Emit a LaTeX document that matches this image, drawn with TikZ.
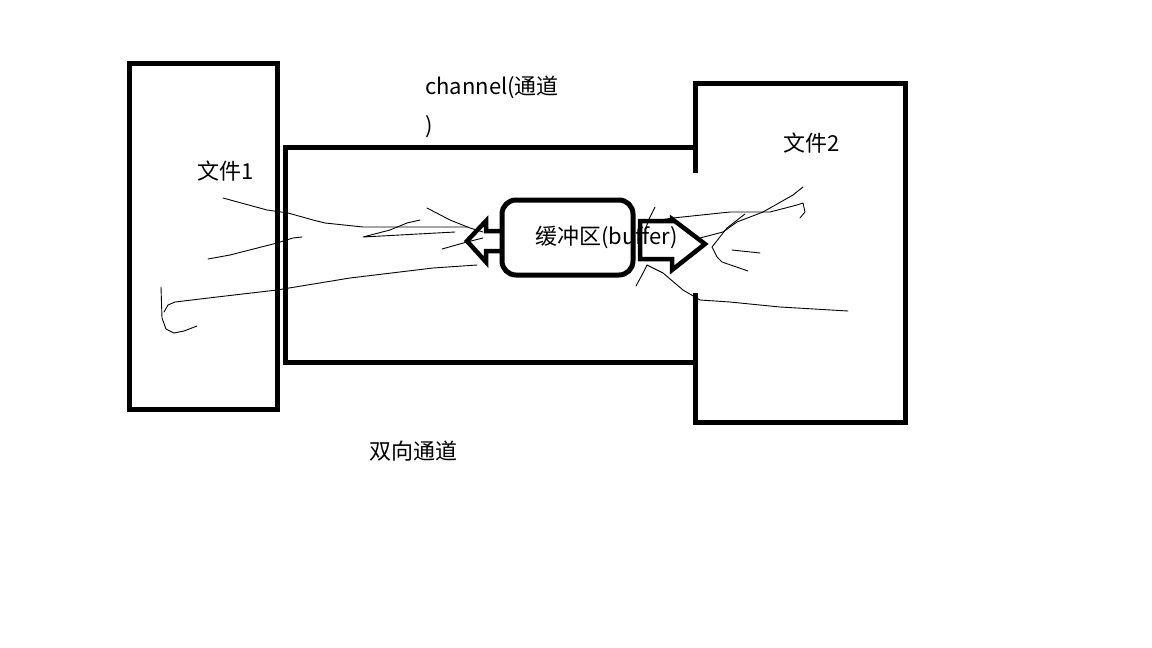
\documentclass[tikz,border=0pt]{standalone}
\usepackage{fontspec}
\setmainfont{Noto Sans CJK SC}
\begin{document}
\begin{tikzpicture}[x=1pt,y=-1pt,
  thickline/.style={line width=5pt},
  scribble/.style={line width=0.9pt, line join=round, line cap=round},
  lbl/.style={inner sep=0pt, anchor=west, font=\fontsize{22}{26}\selectfont}]
\useasboundingbox (0,0) rectangle (1152,648);
\fill[white] (0,0) rectangle (1152,648);
% file 1
\node[draw, thickline, minimum width=148pt, minimum height=346pt, inner sep=0pt] (file1) at (203,236) {};
% file 2 (with opening)
\coordinate (f2a) at (695,173);
\coordinate (f2b) at (695,293);
\draw[thickline, line join=miter] (f2a) -- (695,83) -- (905,83) -- (905,422) -- (695,422) -- (f2b);
% channel
\coordinate (chtop) at (695,147);
\coordinate (chbot) at (695,362);
\draw[thickline, line join=miter] (chtop) -- (285,147) -- (285,362) -- (chbot);
% buffer
\node[draw, thickline, rounded corners=14pt, minimum width=131pt, minimum height=75pt, inner sep=0pt] (buf) at (567.5,237.5) {};
% left arrow
\draw[line width=4.5pt, line join=miter] (502,231) -- (486,231) -- (486,221) -- (467,241) -- (486,262) -- (486,251) -- (502,251);
% right arrow
\draw[line width=4.5pt, line join=miter] (672,221) -- (640,221) -- (640,259) -- (672,259) -- (672,270) -- (705,244) -- (672,219) -- cycle;
% scribbles
\draw[scribble] (223,198) -- (267,210) -- (288,213) -- (313,220) -- (325,223) -- (363,227) -- (450,227) -- (468,227);
\draw[scribble] (420,220) -- (407,223) -- (390,230) -- (363,237) -- (455,232);
\draw[scribble] (427,208) -- (450,220) -- (470,228) -- (483,232);
\draw[scribble] (208,259) -- (230,255) -- (277,243) -- (293,238) -- (302,237);
\draw[scribble] (442,249) -- (467,242) -- (483,238);
\draw[scribble] (161,287) -- (162,318) -- (166,329) -- (174,333) -- (184,331) -- (197,326);
\draw[scribble] (164,312) -- (168,305) -- (175,302) -- (217,297) -- (277,290) -- (350,278) -- (433,268) -- (477,265);
\draw[scribble] (655,207) -- (650,217) -- (645,230);
\draw[scribble] (647,265) -- (642,275) -- (636,286);
\draw[scribble] (647,222) -- (673,218) -- (730,212) -- (770,212) -- (797,205) -- (803,203) -- (805,212) -- (800,218);
\draw[scribble] (700,238) -- (723,232) -- (737,222) -- (763,212) -- (793,195) -- (803,187);
\draw[scribble] (745,214) -- (727,228) -- (712,247) -- (717,257) -- (722,262) -- (748,271);
\draw[scribble] (732,250) -- (760,253);
\draw[scribble] (647,265) -- (663,273) -- (683,290) -- (700,300) -- (730,302) -- (780,307) -- (848,311);
% labels
\node[lbl] (t1) at (197,171) {文件1};
\node[lbl] (t2) at (783,143) {文件2};
\node[lbl] (tch) at (425,87) {channel(通道};
\node[lbl] (tch2) at (425,127) {)};
\node[lbl] (tdual) at (369,451) {双向通道};
\node[lbl] (tbuf) at (535,237) {缓冲区(buffer)};
\end{tikzpicture}
\end{document}
